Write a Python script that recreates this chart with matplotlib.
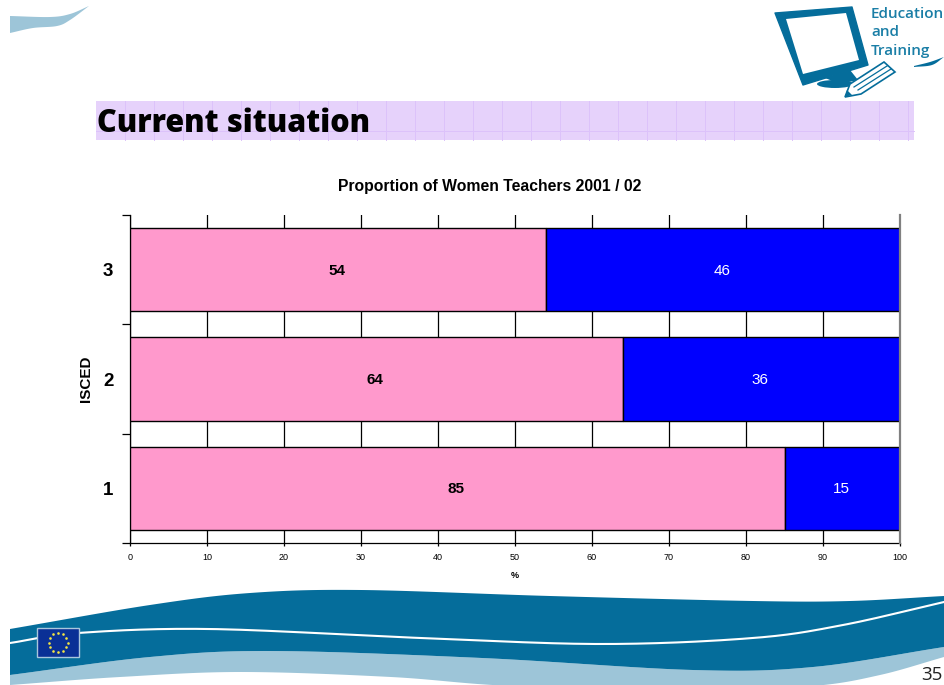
#!/usr/bin/env python3
"""Proportion of women teachers by ISCED level, drawn as a slide with its page furniture."""

import numpy as np
import matplotlib
matplotlib.use('Agg')
from matplotlib import pyplot as plt
from matplotlib.patches import Polygon, Rectangle, Ellipse

# Chart data
isced_levels = [1, 2, 3]
women_pct = [85, 64, 54]
men_pct = [15, 36, 46]
x_ticks = [0, 10, 20, 30, 40, 50, 60, 70, 80, 90, 100]

TEAL = '#056d9b'
LIGHT = '#9dc5d8'
PINK = '#ff99cc'
BLUE = '#0000ff'


def smooth(points, n=24):
    """Catmull-Rom curve through a list of (x, y) points."""
    p = np.array(points, dtype=float)
    p = np.vstack([2 * p[0] - p[1], p, 2 * p[-1] - p[-2]])
    out = []
    for i in range(1, len(p) - 2):
        t = np.linspace(0, 1, n, endpoint=False)[:, None]
        out.append(0.5 * (2 * p[i] + (p[i + 1] - p[i - 1]) * t
                          + (2 * p[i - 1] - 5 * p[i] + 4 * p[i + 1] - p[i + 2]) * t ** 2
                          + (3 * p[i] - p[i - 1] - 3 * p[i + 1] + p[i + 2]) * t ** 3))
    out.append(p[-2][None, :])
    return np.vstack(out)


def draw_page(bg):
    """Header band, logo and footer waves, in pixel coordinates."""
    # Top left swoosh
    top = smooth([(10, 16), (50, 17), (70, 14), (89, 6)])
    low = smooth([(89, 6), (70, 20), (57, 26), (33, 28), (10, 33)])
    bg.add_patch(Polygon(np.vstack([top, low]), fc=LIGHT, ec='none'))

    # Footer waves
    dark_top = smooth([(10, 629), (150, 605), (250, 593), (361, 590), (550, 596),
                       (753, 601), (850, 601), (944, 596)])
    dark_low = smooth([(10, 675), (150, 657), (271, 651), (482, 658), (693, 670),
                       (813, 667), (944, 647)])
    light_low = smooth([(10, 685), (120, 677), (241, 672), (391, 677), (512, 686),
                        (700, 690), (813, 686), (880, 675), (944, 657)])
    bg.add_patch(Polygon(np.vstack([dark_low, light_low[::-1]]), fc=LIGHT, ec='none'))
    bg.add_patch(Polygon(np.vstack([dark_top, dark_low[::-1]]), fc=TEAL, ec='none'))
    white_line = smooth([(10, 643), (78, 633), (210, 629), (421, 638), (602, 644),
                         (753, 638), (843, 625), (944, 602)])
    bg.plot(white_line[:, 0], white_line[:, 1], color='white', lw=1.5)

    # EU flag
    bg.add_patch(Rectangle((37, 628), 42, 29, fc='#0a3096', ec='#a9c6dd', lw=1.0, zorder=4))
    angles = np.deg2rad(np.arange(0, 360, 30))
    bg.scatter(58 + 9.5 * np.cos(angles), 642.5 + 9.5 * np.sin(angles), s=3.5,
               color='#f5e642', zorder=5, linewidths=0)

    # Title band with its faint grid
    bg.add_patch(Rectangle((96, 101), 818, 39, fc='#e6d2fb', ec='none'))
    for x in np.arange(125, 914, 29):
        bg.plot([x, x], [101, 140], color='#dcc2fa', lw=0.7)
    bg.plot([96, 914], [131, 131], color='#dcc2fa', lw=0.7)
    bg.text(97, 124, 'Current situation', fontsize=22, fontweight='extra bold',
            family='Open Sans', va='center', ha='left', color='black')

    # Monitor logo
    bg.add_patch(Polygon([(775, 13), (852, 7), (868, 65), (803, 85)], fc=TEAL, ec=TEAL, lw=1.0,
                         joinstyle='round', zorder=3))
    bg.add_patch(Polygon([(786, 19), (846, 13), (859, 60), (803, 74)], fc='white', ec='none', zorder=3))
    bg.add_patch(Ellipse((835, 84), 36, 8, fc=TEAL, ec='none', zorder=3))
    bg.add_patch(Polygon([(825, 78), (850, 70), (858, 80), (840, 84)], fc=TEAL, ec='none', zorder=3))
    bg.add_patch(Polygon([(845, 97), (850, 84), (884, 62), (895, 72), (861, 94)],
                         fc='white', ec=TEAL, lw=1.2, zorder=4))
    bg.plot([854, 887], [87, 66], color=TEAL, lw=0.9, zorder=5)
    bg.plot([858, 891], [90, 69], color=TEAL, lw=0.9, zorder=5)
    bg.add_patch(Polygon([(845, 97), (847, 90), (852, 95)], fc=TEAL, ec='none', zorder=5))
    swoosh = np.vstack([smooth([(914, 66), (930, 62), (944, 57)]),
                        smooth([(944, 57), (932, 65), (914, 67)])])
    bg.add_patch(Polygon(swoosh, fc=TEAL, ec='none'))
    for label, y in [('Education', 14), ('and', 32), ('Training', 51)]:
        bg.text(871, y, label, fontsize=11, family='Open Sans', color='#1a7ea6',
                va='center', ha='left', fontweight='semibold')

    bg.text(943, 675, '35', fontsize=13.5, family='Open Sans', color='#222222',
            va='center', ha='right')


def main():
    fig = plt.figure(figsize=(9.44, 6.85), dpi=100, facecolor='white')

    bg = fig.add_axes([0, 0, 1, 1])
    bg.set_xlim(0, 944)
    bg.set_ylim(685, 0)
    bg.axis('off')
    draw_page(bg)

    ax = fig.add_axes([130 / 944, 1 - 543 / 685, 770 / 944, 328 / 685])
    ax.patch.set_alpha(0)

    ax.barh(isced_levels, women_pct, height=0.76, color=PINK, edgecolor='black', linewidth=1.0, zorder=3)
    ax.barh(isced_levels, men_pct, left=women_pct, height=0.76, color=BLUE,
            edgecolor='black', linewidth=1.0, zorder=3)

    for level, w, m in zip(isced_levels, women_pct, men_pct):
        ax.annotate(f'{w}', (w / 2, level), xytext=(-1, -1), textcoords='offset pixels',
                    ha='center', va='center', fontsize=11, fontweight='bold',
                    family='Liberation Sans', color='black', zorder=4)
        ax.annotate(f'{m}', (w + m / 2, level), xytext=(-1, -1), textcoords='offset pixels',
                    ha='center', va='center', fontsize=11,
                    family='Liberation Sans', color='white', zorder=4)

    ax.set_xlim(0, 100)
    ax.set_ylim(0.5, 3.5)
    ax.set_xticks(x_ticks)
    ax.set_xticklabels([str(t) for t in x_ticks], fontsize=6.5, family='Liberation Sans')
    ax.set_yticks([0.5, 1.5, 2.5, 3.5])
    ax.set_yticklabels([])
    ax.set_yticks(isced_levels, minor=True)
    ax.set_yticklabels([str(v) for v in isced_levels], minor=True, fontsize=13.5,
                       fontweight='bold', family='Liberation Sans')
    ax.tick_params(axis='y', which='minor', length=0, pad=12)
    ax.tick_params(axis='y', which='major', length=6, width=0.9)
    ax.tick_params(axis='x', length=2, width=0.9, pad=5.5)
    ax.grid(axis='x', color='black', lw=0.9, zorder=1)
    ax.set_axisbelow(True)
    for side in ['top', 'right']:
        ax.spines[side].set_visible(False)
    for side in ['left', 'bottom']:
        ax.spines[side].set_linewidth(0.9)

    # Heavier grey rule closing the 100 % end of the plot
    ax.axvline(100, color='#808080', lw=1.6, zorder=5, clip_on=False)

    fig.text(515 / 944, 1 - 575 / 685, '%', fontsize=6.5, fontweight='bold',
             family='Liberation Sans', ha='center', va='center')
    fig.text(86 / 944, 1 - 379 / 685, 'ISCED', fontsize=11, fontweight='bold', rotation=90,
             family='Liberation Sans', ha='center', va='center')
    fig.text(490 / 944, 1 - 187 / 685, 'Proportion of Women Teachers 2001 / 02', fontsize=11.3,
             fontweight='bold', family='Liberation Sans', ha='center', va='center')

    fig.savefig('out.png', dpi=100)


if __name__ == '__main__':
    main()
